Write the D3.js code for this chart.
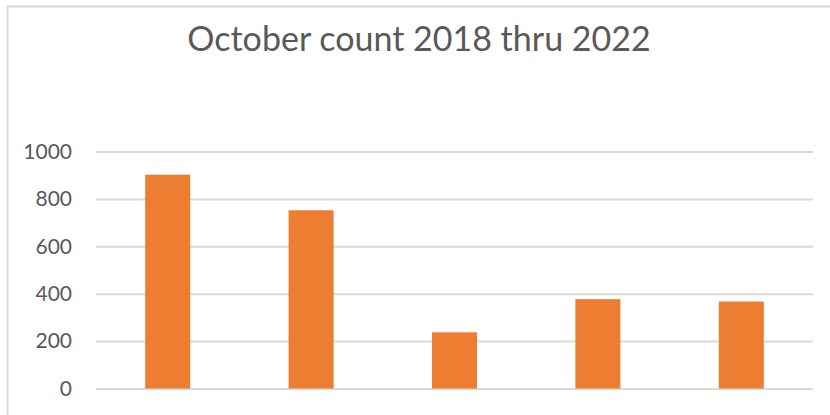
<!DOCTYPE html>
<html><head><meta charset="utf-8">
<script src="https://cdn.jsdelivr.net/npm/d3@7"></script>
<style>body{margin:0;background:#fff}svg{display:block}</style>
</head><body>
<svg id="c" width="830" height="415"></svg>
<script>
const title = "October count 2018 thru 2022";
const categories = ["2018", "2019", "2020", "2021", "2022"];
const values = [902, 752, 237, 377, 367];
const yTicks = [0, 200, 400, 600, 800, 1000];

const svg = d3.select("#c");
const W = 830, H = 415;
const m = {left: 96, right: 17, top: 151.5, bottom: 26.5};

svg.append("rect").attr("x", 7.5).attr("y", 6.5).attr("width", W + 10).attr("height", H + 10)
  .attr("fill", "#fff").attr("stroke", "#d9d9d9").attr("stroke-width", 2);

const x = d3.scaleBand().domain(categories).range([m.left, W - m.right])
  .paddingInner(0.686).paddingOuter(0.343);
const y = d3.scaleLinear().domain([0, 1000]).range([H - m.bottom, m.top]);

const yAxis = d3.axisLeft(y).tickValues(yTicks).tickSize(-(W - m.right - m.left)).tickPadding(24).tickFormat(d3.format("d"));
const g = svg.append("g").attr("transform", `translate(${m.left},0)`).call(yAxis);
g.select(".domain").remove();
g.selectAll(".tick line").attr("stroke", "#d9d9d9").attr("stroke-width", 2);
g.selectAll(".tick text").attr("fill", "#595959").style("font-family", "Lato, 'Liberation Sans', sans-serif").style("font-size", "21px");

svg.append("g").selectAll("rect").data(values).join("rect")
  .attr("x", (d, i) => x(categories[i]))
  .attr("width", x.bandwidth())
  .attr("y", d => y(d))
  .attr("height", d => y(0) - y(d))
  .attr("fill", "#ed7d31");

svg.append("text").attr("x", 419).attr("y", 51).attr("text-anchor", "middle")
  .attr("fill", "#595959").style("font-family", "Lato, 'Liberation Sans', sans-serif").style("font-size", "34px")
  .text(title);
</script>
</body></html>
